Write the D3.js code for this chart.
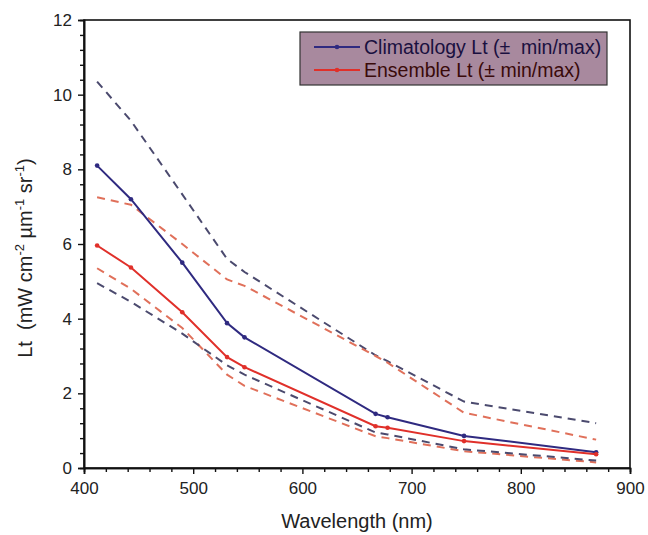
<!DOCTYPE html>
<html><head><meta charset="utf-8">
<script src="https://cdn.jsdelivr.net/npm/d3@7"></script>
<style>body{margin:0;background:#fff}svg{display:block;font-family:"Liberation Sans",Arial,sans-serif}svg text{white-space:pre}</style>
</head><body><svg id="c" width="648" height="535"></svg>
<script>
const wavelengths = [412, 443, 490, 531, 547, 667, 678, 748, 869];
const climMean = [8.1, 7.2, 5.5, 3.88, 3.5, 1.45, 1.36, 0.86, 0.42];
const climMax  = [10.35, 9.3, 7.33, 5.6, 5.25, 3.02, 2.86, 1.78, 1.2];
const climMin  = [4.95, 4.45, 3.6, 2.75, 2.5, 0.95, 0.9, 0.5, 0.2];
const ensMean  = [5.96, 5.37, 4.17, 2.97, 2.7, 1.12, 1.08, 0.72, 0.37];
const ensMax   = [7.25, 7.05, 6.0, 5.05, 4.88, 3.0, 2.82, 1.48, 0.76];
const ensMin   = [5.35, 4.8, 3.75, 2.5, 2.2, 0.85, 0.8, 0.45, 0.15];
const xTicks = [400, 500, 600, 700, 800, 900];
const yTicks = [0, 2, 4, 6, 8, 10, 12];
const legendLabels = ["Climatology Lt (\u00B1  min/max)", "Ensemble Lt (\u00B1 min/max)"];

const svg = d3.select("#c");
const x = d3.scaleLinear().domain([400, 900]).range([84, 630]);
const y = d3.scaleLinear().domain([0, 12]).range([468, 20]);

const colClim = "#2f2a80", colEns = "#e0302a", colClimD = "#4b4a6e", colEnsD = "#e0705a";

// frame
svg.append("rect").attr("x", x(400)).attr("y", y(12)).attr("width", x(900)-x(400)).attr("height", y(0)-y(12))
  .attr("fill", "none").attr("stroke", "#111").attr("stroke-width", 1.6);

// axes
svg.append("g").attr("transform", `translate(0,${y(0)})`)
  .call(d3.axisBottom(x).tickValues(xTicks).tickSize(6).tickPadding(8).tickFormat(d3.format("d")));
svg.append("g").attr("transform", `translate(0,${y(0)})`)
  .call(d3.axisBottom(x).tickValues(d3.range(400, 901, 20).filter(v => v % 100)).tickSize(4).tickFormat(""));
svg.append("g").attr("transform", `translate(${x(400)},0)`)
  .call(d3.axisLeft(y).tickValues(yTicks).tickSize(6).tickPadding(6).tickFormat(d3.format("d")));
svg.append("g").attr("transform", `translate(${x(400)},0)`)
  .call(d3.axisLeft(y).tickValues(d3.range(0, 12.01, 0.4).filter(v => Math.abs(v/2 - Math.round(v/2)) > 0.01)).tickSize(4).tickFormat(""));
svg.selectAll(".domain").attr("stroke", "#111").attr("stroke-width", 1.6);
svg.selectAll(".tick line").attr("stroke", "#111").attr("stroke-width", 1.4);
svg.selectAll(".tick text").attr("font-size", 17).attr("fill", "#222").attr("font-family", "Liberation Sans, Arial, sans-serif");

const line = d3.line().x((d, i) => x(wavelengths[i])).y(d => y(d));

function dashed(arr, col) {
  svg.append("path").attr("d", line(arr)).attr("fill", "none").attr("stroke", col)
    .attr("stroke-width", 2).attr("stroke-dasharray", "8,6");
}
dashed(climMax, colClimD);
dashed(ensMax, colEnsD);
dashed(ensMin, colEnsD);
dashed(climMin, colClimD);

function solid(arr, col) {
  svg.append("path").attr("d", line(arr)).attr("fill", "none").attr("stroke", col).attr("stroke-width", 2);
  svg.append("g").selectAll("circle").data(arr).join("circle")
    .attr("cx", (d, i) => x(wavelengths[i])).attr("cy", d => y(d)).attr("r", 2.3).attr("fill", col);
}
solid(climMean, colClim);
solid(ensMean, colEns);

// legend
const lg = svg.append("g");
lg.append("rect").attr("x", 300).attr("y", 32).attr("width", 307).attr("height", 53)
  .attr("fill", "#a8899e").attr("stroke", "#333").attr("stroke-width", 1.2);
[[colClim, 47], [colEns, 70]].forEach(([c, yy], i) => {
  lg.append("line").attr("x1", 314).attr("x2", 360).attr("y1", yy).attr("y2", yy).attr("stroke", c).attr("stroke-width", 2.2);
  lg.append("circle").attr("cx", 337).attr("cy", yy).attr("r", 2.3).attr("fill", c);
  lg.append("text").attr("x", 364).attr("y", yy + 7).attr("font-size", 19.5).attr("fill", i ? "#3a0a0a" : "#1a1040").text(legendLabels[i]);
});

// axis titles
svg.append("text").attr("x", 357).attr("y", 528).attr("text-anchor", "middle").attr("font-size", 20).attr("fill", "#222")
  .text("Wavelength (nm)");
const yt = svg.append("text").attr("transform", "translate(32,258) rotate(-90)").attr("text-anchor", "middle")
  .attr("font-size", 20).attr("fill", "#222");
yt.append("tspan").text("Lt  (mW cm");
yt.append("tspan").attr("dy", -8).attr("font-size", 13).text("-2");
yt.append("tspan").attr("dy", 8).text(" \u00B5m");
yt.append("tspan").attr("dy", -8).attr("font-size", 13).text("-1");
yt.append("tspan").attr("dy", 8).text(" sr");
yt.append("tspan").attr("dy", -8).attr("font-size", 13).text("-1");
yt.append("tspan").attr("dy", 8).text(")");
</script></body></html>
